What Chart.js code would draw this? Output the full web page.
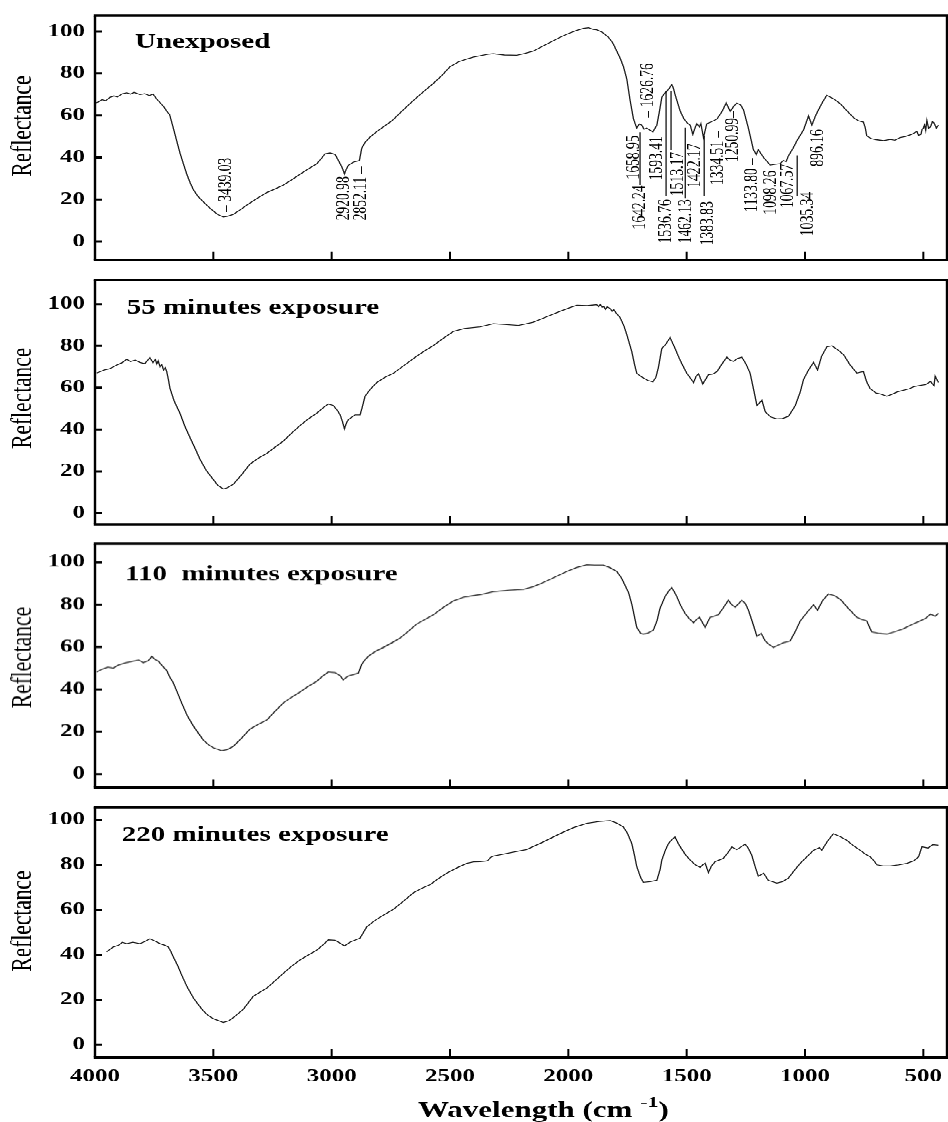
<!DOCTYPE html>
<html>
<head>
<meta charset="utf-8">
<script src="https://cdn.jsdelivr.net/npm/chart.js@4.4.1/dist/chart.umd.min.js"></script>
<style>
  html, body { margin: 0; padding: 0; overflow: hidden; background: #fff; width: 948px; height: 1122px; }
  /* whole figure is drawn 1.4x taller, then squeezed: gives the wide lettering of the original */
  #wrap { position: absolute; left: 0; top: 0; width: 948px; height: 1570.8px; transform: scaleY(0.7142857); transform-origin: 0 0; }
  .panel { position: absolute; left: 0; width: 948px; }
</style>
</head>
<body>
<div id="wrap"></div>
<script>
const K = 1.4;

// ticks
const xTicks = [500, 1000, 1500, 2000, 2500, 3000, 3500, 4000];
const yTicks = [0, 20, 40, 60, 80, 100];

// spectra (wavenumber cm-1, reflectance)
const wnUnexposed = [3996,3986,3970,3955,3937,3920,3905,3885,3866,3850,3835,3810,3790,3770,3755,3739,3720,3705,3697,3685,3669,3655,3641,3625,3612,3598,3584,3565,3542,3520,3500,3480,3458,3440,3416,3390,3359,3320,3274,3240,3205,3170,3134,3100,3063,3040,3028,3007,2986,2964,2955,2946,2938,2929,2908,2883,2873,2860,2838,2810,2781,2745,2711,2675,2640,2605,2571,2535,2500,2465,2429,2400,2373,2340,2317,2270,2218,2185,2149,2100,2060,2035,2000,1965,1936,1915,1895,1880,1855,1830,1812,1795,1780,1767,1753,1739,1725,1711,1700,1690,1680,1669,1655,1643,1626,1615,1605,1594,1584,1573,1563,1556,1549,1538,1527,1511,1498,1485,1474,1465,1457,1446,1440,1429,1415,1395,1372,1350,1333,1316,1300,1288,1272,1260,1239,1218,1206,1197,1175,1147,1125,1105,1091,1080,1070,1050,1034,1006,985,971,955,943,925,908,880,851,825,795,775,753,745,739,720,700,668,640,620,598,575,550,527,520,510,505,500,495,490,485,478,470,462,455,445,436];
const rUnexposed  = [66.0,66.4,67.5,67.0,68.6,69.3,68.8,70.3,70.8,70.2,71.0,70.0,70.4,69.5,70.2,67.8,65.5,63.5,62.0,60.5,54.0,48.0,42.2,36.5,32.0,28.0,24.6,21.5,18.9,16.5,14.5,12.8,11.7,12.0,12.9,14.8,17.3,20.2,23.3,25.0,26.8,29.3,32.0,34.5,37.0,40.0,41.8,42.2,41.5,37.0,35.0,32.2,34.5,36.3,37.8,38.5,44.4,47.0,49.7,52.3,54.6,57.5,61.2,65.0,68.6,72.0,75.2,79.0,83.2,85.5,86.9,87.8,88.4,89.2,89.4,88.8,88.7,89.5,90.6,93.5,95.8,97.2,99.0,100.5,101.5,101.8,101.0,100.8,99.5,97.2,94.5,90.6,87.0,83.2,77.4,67.2,58.5,54.0,56.0,55.4,53.5,54.0,53.0,52.2,55.4,62.0,68.6,70.5,71.5,73.0,74.7,73.0,70.0,66.0,62.0,58.3,56.5,55.4,51.0,54.0,56.1,54.6,56.1,49.5,56.1,57.0,58.3,62.0,65.9,62.0,64.5,65.9,65.0,62.7,53.9,43.7,41.5,43.7,40.0,36.4,36.8,37.1,38.5,38.0,40.8,44.5,48.0,53.2,59.8,55.4,60.0,62.7,66.5,69.6,68.0,65.6,62.5,59.0,57.5,56.8,54.0,50.2,49.0,48.5,48.0,48.6,48.2,49.5,50.0,51.0,52.4,50.5,51.0,53.5,54.0,55.5,53.0,57.6,54.0,54.5,57.0,56.5,54.0,55.4];

const wn55 = [3993,3975,3960,3940,3923,3905,3885,3866,3850,3830,3810,3790,3768,3755,3745,3739,3733,3725,3718,3710,3703,3697,3690,3683,3665,3641,3620,3598,3575,3556,3530,3500,3480,3458,3440,3415,3380,3345,3310,3274,3240,3204,3170,3134,3100,3063,3035,3014,2993,2975,2964,2955,2946,2938,2929,2901,2880,2870,2859,2835,2809,2775,2739,2690,2640,2605,2570,2530,2486,2440,2373,2317,2260,2211,2180,2148,2090,2035,1995,1964,1920,1880,1872,1865,1857,1850,1843,1836,1823,1815,1808,1800,1781,1765,1753,1732,1720,1711,1695,1683,1665,1643,1630,1619,1605,1590,1570,1560,1549,1535,1520,1500,1485,1471,1460,1450,1432,1408,1390,1372,1350,1330,1315,1302,1285,1267,1250,1232,1215,1203,1182,1168,1145,1119,1095,1070,1041,1020,1006,985,964,947,930,908,886,860,837,810,781,763,753,740,725,700,680,654,630,610,584,560,540,513,490,470,455,450,436];
const r55  = [67.0,67.8,68.5,69.0,69.9,71.0,72.0,73.6,72.5,73.2,72.1,71.5,74.3,72.0,73.5,71.4,72.8,70.0,71.0,68.5,69.5,67.7,64.0,59.6,53.5,47.8,41.5,36.0,30.5,25.7,20.5,16.1,13.2,11.6,12.2,13.9,18.5,23.5,26.3,28.6,31.5,34.5,38.2,41.9,45.0,47.8,50.5,52.2,51.5,49.0,47.0,44.0,40.4,43.0,44.8,47.0,47.0,51.0,55.9,59.5,62.5,65.0,66.9,71.0,75.1,77.8,80.2,83.5,86.9,88.3,89.1,90.6,90.2,89.8,90.5,91.3,94.0,96.5,98.2,99.4,99.2,99.7,98.8,99.8,98.5,98.8,97.5,98.6,97.9,96.5,97.3,96.0,93.5,89.5,85.4,77.3,71.0,67.0,65.5,64.7,63.5,62.8,65.0,69.9,78.8,80.5,83.9,81.5,78.8,75.0,71.4,67.0,64.7,62.5,65.5,66.7,61.8,66.2,66.5,67.7,71.5,74.6,73.0,72.6,74.0,74.6,71.5,67.0,58.0,51.5,54.0,48.5,46.0,45.1,45.3,46.3,51.5,58.0,64.0,68.5,72.1,68.5,75.0,79.5,80.0,78.0,75.8,71.0,67.0,67.5,67.7,63.0,59.6,57.5,57.0,55.9,57.0,58.0,58.8,59.5,60.5,61.1,61.5,63.0,61.0,65.5,62.5];

const wn110 = [3993,3970,3945,3923,3900,3870,3838,3815,3796,3775,3760,3745,3732,3715,3697,3685,3669,3650,3634,3610,3584,3560,3542,3520,3500,3465,3440,3415,3380,3345,3310,3274,3240,3204,3170,3134,3100,3063,3035,3014,2986,2965,2951,2940,2929,2887,2873,2855,2838,2810,2781,2745,2711,2675,2641,2605,2570,2530,2486,2440,2373,2317,2250,2190,2150,2119,2060,2007,1965,1922,1890,1852,1825,1795,1775,1760,1745,1732,1720,1711,1695,1683,1665,1641,1625,1613,1591,1575,1563,1552,1542,1525,1507,1490,1471,1458,1446,1422,1401,1385,1366,1345,1324,1310,1295,1280,1267,1252,1239,1220,1203,1185,1168,1150,1133,1110,1091,1063,1040,1020,990,964,947,925,901,875,851,815,781,760,739,728,718,690,654,620,584,550,513,490,470,450,436];
const r110  = [48.2,49.5,50.5,50.0,51.5,52.5,53.3,53.8,52.6,53.5,55.5,54.0,53.3,51.0,48.9,46.0,43.0,38.0,33.6,27.5,22.6,18.8,16.0,13.8,12.4,11.0,11.6,13.1,17.0,21.2,23.5,25.5,29.5,33.6,36.2,38.7,41.3,43.8,46.5,48.2,47.9,46.5,44.5,45.5,46.3,47.7,51.8,54.5,56.2,58.2,59.8,62.0,64.2,67.5,70.8,73.0,75.2,78.5,81.7,83.6,84.7,86.1,86.8,87.2,88.4,89.8,92.8,95.6,97.5,98.8,98.6,98.6,97.5,95.6,92.5,89.0,85.5,80.3,74.0,69.3,66.5,66.1,66.5,67.9,72.5,78.1,83.9,86.5,88.0,86.0,83.9,79.5,75.9,73.5,71.5,73.0,74.0,69.3,74.0,74.5,75.2,78.5,82.0,80.0,78.8,80.5,82.0,80.5,77.4,71.0,65.0,66.4,62.8,61.0,59.8,61.0,62.0,62.8,67.5,72.3,76.5,79.9,77.4,82.0,85.0,84.2,82.5,78.0,74.0,73.0,72.3,69.5,67.1,66.5,66.1,67.2,68.6,70.5,72.3,73.5,75.5,74.5,75.9];

const wn220 = [3951,3935,3923,3900,3885,3866,3840,3810,3790,3768,3745,3725,3705,3690,3680,3669,3650,3634,3610,3584,3560,3542,3520,3500,3458,3435,3415,3373,3331,3300,3274,3240,3204,3170,3134,3100,3063,3035,3014,2986,2965,2946,2922,2880,2865,2853,2830,2809,2775,2739,2700,2655,2620,2584,2550,2514,2470,2429,2400,2373,2345,2338,2330,2317,2250,2176,2110,2035,1980,1922,1870,1823,1795,1767,1750,1732,1720,1711,1695,1683,1655,1626,1612,1605,1590,1577,1560,1549,1538,1527,1505,1485,1463,1443,1432,1422,1408,1395,1380,1345,1325,1309,1288,1270,1253,1240,1225,1210,1197,1175,1155,1119,1095,1070,1045,1020,990,964,939,929,905,880,850,823,795,767,745,725,710,696,670,640,605,569,540,520,506,480,460,436];
const r220  = [41.2,42.5,43.4,44.2,45.5,44.9,45.5,44.9,45.8,47.1,46.0,44.9,44.2,43.4,41.5,39.0,35.0,31.0,25.5,20.7,17.3,14.9,12.8,11.5,9.8,10.5,12.0,15.7,21.5,23.5,25.1,28.3,31.7,34.8,37.6,39.8,42.0,44.5,46.6,46.4,45.2,43.9,45.6,47.4,50.0,52.2,54.2,55.8,58.0,60.2,63.5,67.5,69.5,71.2,73.8,76.3,78.7,80.7,81.3,81.4,81.7,82.1,83.2,83.9,85.3,86.8,90.0,93.9,96.5,98.5,99.3,99.7,98.6,96.8,94.0,89.5,84.0,79.3,74.5,72.2,72.5,73.1,78.0,82.1,86.5,89.5,91.5,92.4,90.0,88.0,84.5,82.1,80.0,78.9,80.0,80.7,76.6,79.5,81.4,82.9,85.5,88.0,86.8,88.0,89.2,87.5,84.3,79.0,74.9,76.3,73.1,71.9,72.5,74.1,77.5,80.7,83.8,86.5,87.7,86.5,90.5,93.9,92.5,90.9,88.5,86.5,84.8,83.6,82.0,80.0,79.5,79.5,80.0,80.7,81.8,83.6,88.0,87.5,89.0,88.7];

// peak labels of the unexposed spectrum
const peakText = ['\u2013 3439.03', '2920.98', '2852.11 \u2013', '\u2013 1626.76', '1658.95', '1642.24', '1593.41', '1536.76', '1513.17', '1462.13', '1422.17', '1383.83', '1334.51 \u2013', '1250.99\u2013', '1133.80 \u2013', '1098.26', '1067.57', '1035.34', '896.16'];
const peakWn   = [3446, 2948, 2876, 1663, 1722, 1697, 1625, 1587, 1536, 1502, 1464, 1409, 1367, 1304, 1223, 1143, 1071, 987, 944];
const peakBase = [14.1, 10.1, 10.1, 59.0, 29.5, 5.7, 29.1, -0.9, 21.6, -0.9, 25.6, -1.8, 26.9, 37.9, 14.1, 12.8, 15.9, 2.6, 35.7];
const leaderWn   = [1697, 1587, 1566, 1506, 1426, 1033];
const leaderFrom = [26.9, 21.6, 43.6, 20.7, 21.6, 21.6];
const leaderTo   = [52.0, 71.8, 71.8, 54.2, 50.2, 41.0];

// panels: pixel frame top/bottom, y range, title
const panels = [
  { top: 12,  bottom: 276,  min: -8.8, max: 107.5, wn: wnUnexposed, r: rUnexposed, title: 'Unexposed',             tWn: 3831, tV: 92.1, peaks: true },
  { top: 276, bottom: 540,  min: -5.3, max: 111.5, wn: wn55,  r: r55,  title: '55 minutes exposure',   tWn: 3866, tV: 95.6 },
  { top: 540, bottom: 803,  min: -6.4, max: 108.8, wn: wn110, r: r110, title: '110  minutes exposure', tWn: 3873, tV: 91.7 },
  { top: 803, bottom: 1057, min: -5.7, max: 105.7, wn: wn220, r: r220, title: '220 minutes exposure',  tWn: 3887, tV: 90.9 }
];

const deco = {
  id: 'deco',
  afterDraw(chart, args, o) {
    const { ctx, chartArea: a, scales: { x, y } } = chart;
    ctx.save();
    ctx.strokeStyle = '#000';
    ctx.fillStyle = '#000';

    // frame
    ctx.lineWidth = 3.4;
    ctx.beginPath();
    ctx.moveTo(a.left - 1.2, a.top); ctx.lineTo(a.right + 1.2, a.top);
    ctx.moveTo(a.left - 1.2, a.bottom); ctx.lineTo(a.right + 1.2, a.bottom);
    ctx.stroke();
    ctx.lineWidth = 2.4;
    ctx.beginPath();
    ctx.moveTo(a.left, a.top); ctx.lineTo(a.left, a.bottom);
    ctx.moveTo(a.right, a.top); ctx.lineTo(a.right, a.bottom);
    ctx.stroke();

    // inward ticks
    ctx.lineWidth = 2;
    ctx.beginPath();
    x.ticks.forEach(t => {
      const px = x.getPixelForValue(t.value);
      if (px > a.left + 3) { ctx.moveTo(px, a.bottom); ctx.lineTo(px, a.bottom - 8 * K); }
    });
    ctx.stroke();
    ctx.lineWidth = 3;
    ctx.beginPath();
    y.ticks.forEach(t => {
      const py = y.getPixelForValue(t.value);
      ctx.moveTo(a.left, py); ctx.lineTo(a.left + 7, py);
    });
    ctx.stroke();

    // y title
    ctx.save();
    ctx.translate(23, y.getPixelForValue(55));
    ctx.rotate(-Math.PI / 2);
    ctx.font = '30px "Liberation Serif"';
    ctx.textAlign = 'center';
    ctx.textBaseline = 'middle';
    ctx.fillText('Reflectance', 0, 0);
    ctx.restore();

    // panel title
    ctx.font = 'bold 29px "Liberation Serif"';
    ctx.textAlign = 'left';
    ctx.textBaseline = 'alphabetic';
    ctx.fillText(o.title, x.getPixelForValue(o.tWn), y.getPixelForValue(o.tV));

    // peak labels
    if (o.peaks) {
      ctx.font = '19px "Liberation Serif"';
      ctx.textBaseline = 'middle';
      peakText.forEach((s, i) => {
        ctx.save();
        ctx.translate(x.getPixelForValue(peakWn[i]), y.getPixelForValue(peakBase[i]));
        ctx.rotate(-Math.PI / 2);
        ctx.fillText(s, 0, 0);
        ctx.restore();
      });
      ctx.lineWidth = 1.2;
      ctx.beginPath();
      leaderWn.forEach((w, i) => {
        const px = x.getPixelForValue(w);
        ctx.moveTo(px, y.getPixelForValue(leaderFrom[i]));
        ctx.lineTo(px, y.getPixelForValue(leaderTo[i]));
      });
      ctx.stroke();
    }

    // x title
    if (o.xTitle) {
      let bx = 418;
      const by = chart.height - 5 * K;
      ctx.textBaseline = 'alphabetic';
      ctx.font = 'bold 31px "Liberation Serif"';
      const s1 = 'Wavelength (cm ';
      ctx.fillText(s1, bx, by);
      bx += ctx.measureText(s1).width;
      ctx.font = 'bold 22px "Liberation Serif"';
      ctx.fillText('-1', bx, by - 10 * K);
      bx += ctx.measureText('-1').width;
      ctx.font = 'bold 31px "Liberation Serif"';
      ctx.fillText(')', bx, by);
    }
    ctx.restore();
  }
};

const wrap = document.getElementById('wrap');
const tickFont = { family: 'Liberation Serif', weight: 'bold', size: 25 };

panels.forEach((p, i) => {
  const last = i === panels.length - 1;
  const padT = 14, padB = last ? 0 : 2;
  const top = p.top - padT;
  const bottom = last ? 1122 : p.bottom + padB;

  const div = document.createElement('div');
  div.className = 'panel';
  div.style.top = (top * K) + 'px';
  div.style.height = ((bottom - top) * K) + 'px';
  const cv = document.createElement('canvas');
  div.appendChild(cv);
  wrap.appendChild(div);

  const pts = p.wn.map((w, j) => ({ x: w, y: p.r[j] }));

  new Chart(cv, {
    type: 'line',
    data: {
      datasets: [{
        data: pts,
        borderColor: '#1c1c1c',
        borderWidth: 1.3,
        pointRadius: 0,
        tension: 0,
        fill: false
      }]
    },
    options: {
      responsive: true,
      maintainAspectRatio: false,
      animation: false,
      events: [],
      layout: { padding: { top: padT * K, bottom: padB * K, left: 0, right: 1 } },
      plugins: {
        legend: { display: false },
        tooltip: { enabled: false },
        deco: { title: p.title, tWn: p.tWn, tV: p.tV, peaks: !!p.peaks, xTitle: last }
      },
      scales: {
        x: {
          type: 'linear',
          reverse: true,
          min: 400,
          max: 4000,
          grid: { display: false, drawTicks: false },
          border: { display: false },
          ticks: {
            display: last,
            autoSkip: false,
            maxRotation: 0,
            padding: 12,
            color: '#000',
            font: tickFont,
            callback: v => String(v)
          },
          afterBuildTicks: s => { s.ticks = xTicks.map(v => ({ value: v })); },
          afterFit: s => { s.height = last ? (1122 - p.bottom) * K : 0; }
        },
        y: {
          min: p.min,
          max: p.max,
          grid: { display: false, drawTicks: false },
          border: { display: false },
          ticks: {
            padding: 10,
            color: '#000',
            font: tickFont,
            callback: v => String(v)
          },
          afterBuildTicks: s => { s.ticks = yTicks.map(v => ({ value: v })); },
          afterFit: s => { s.width = 95; }
        }
      }
    },
    plugins: [deco]
  });
});
</script>
</body>
</html>
